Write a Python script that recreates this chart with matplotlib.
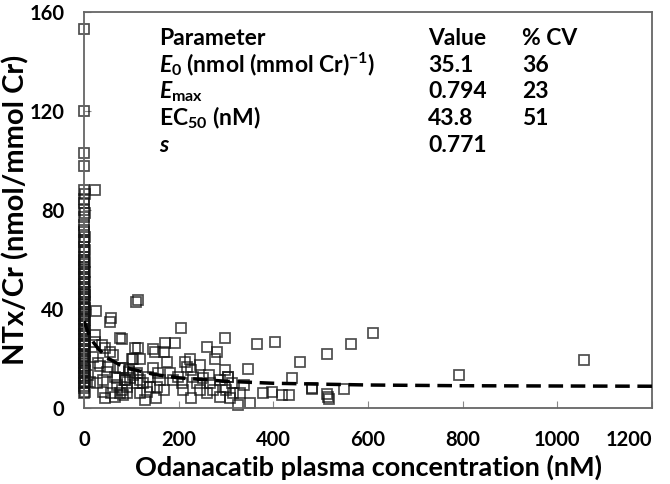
import matplotlib
matplotlib.use('Agg')
import matplotlib.pyplot as plt

plt.rcParams['font.family'] = ['Lato', 'DejaVu Sans']
plt.rcParams['font.weight'] = 'bold'
plt.rcParams['mathtext.fontset'] = 'custom'
plt.rcParams['mathtext.rm'] = 'Lato:bold'
plt.rcParams['mathtext.it'] = 'Lato:italic:bold'
plt.rcParams['mathtext.bf'] = 'Lato:bold'
plt.rcParams['lines.scale_dashes'] = False

# observations stacked at (near) zero concentration
col_y = [153, 120, 103, 98, 88, 86.5, 84.5, 83, 80, 79, 77, 74, 72, 71, 69,
         68, 67, 65, 64, 63, 61, 60, 59, 58, 57, 56, 55, 54, 53, 52, 51, 50,
         49, 48, 47, 46, 45, 44, 43, 42, 41, 40, 39, 38, 37, 36, 35, 34, 33,
         32, 31, 30, 29, 28, 27, 26, 25, 24, 23, 22, 21, 20, 19, 18, 17, 16,
         15, 14, 13, 12, 11, 10, 9, 8, 6.5, 5.9, 45.5, 40.5, 35.5, 30.5,
         25.5, 20.5, 15.5, 10.5]
col_x = [1, 1, 1, 1, 1, 2, 1, 0, 1, 2, 1, 1, 0, 1, 2,
         1, 0, 1, 2, 1, 0, 1, 2, 1, 0, 1, 2, 1, 0, 1, 2, 1,
         0, 1, 2, 1, 0, 1, 2, 1, 0, 1, 2, 1, 0, 1, 2, 1, 0,
         1, 2, 1, 0, 1, 2, 1, 0, 1, 2, 1, 0, 1, 2, 1, 0, 1,
         2, 1, 0, 1, 2, 1, 0, 1, 2, 1, 3, 3, 3, 3,
         3, 3, 3, 3]

# remaining observations
conc = [23, 25, 58, 55, 110, 113, 76, 23, 37, 44, 23, 62, 55, 30, 51,
        76, 94, 104, 115, 9, 13, 27, 41, 65, 87, 104, 41, 58, 76, 44, 65,
        69, 90, 111, 80, 108, 101, 118, 146, 150, 168, 171, 192, 175, 213,
        224, 205, 245, 259, 280, 277, 298, 263, 83, 94, 87, 97, 80, 90, 83,
        111, 118, 125, 136, 139, 146, 157, 161, 154, 168, 129, 153, 118, 132,
        182, 189, 199, 206, 210, 217, 227, 231, 238, 245, 227, 252, 266, 273,
        259, 287, 287, 298, 305, 298, 305, 312, 301, 315, 308, 330, 337, 326,
        351, 347, 379, 397, 418, 432, 439, 481, 515, 513, 365, 404, 456, 513,
        563, 611, 793, 1057, 550, 481, 518, 18, 33, 48, 70]
resp = [88, 39.2, 36.2, 34.9, 43, 43.5, 28.2, 29.5, 25.5, 24.1, 26.5, 21.4,
        22.7, 18, 16.7, 16, 15.4, 20, 24.1, 13.3, 10.6, 10, 11.3, 12.7, 11.3,
        13.3, 6.6, 5.9, 6.2, 3.9, 4.6, 9.3, 8.6, 10, 27.8, 24.1, 20, 20, 24,
        22.7, 22.7, 26.4, 26.4, 18.7, 18.7, 20, 32.3, 17.4, 24.8, 22.7, 20,
        28.2, 13.3, 16, 14.7, 11.3, 12, 7.3, 5.9, 5.3, 14, 11.3, 10, 12.7,
        8.6, 16, 14, 11.3, 8.6, 7.3, 3.2, 3.9, 5.9, 6.6, 14, 11.3, 12.7, 10,
        7.3, 16.7, 15.4, 12.7, 10, 7.3, 3.9, 12, 10, 7.3, 5.9, 4.6, 11.3,
        8.6, 12.7, 15.4, 12.7, 10, 7.3, 5.9, 3.9, 6, 9.3, 1.2, 1.9, 15.6,
        5.9, 6.6, 5.3, 5.3, 12, 8, 4.5, 5.5, 25.7, 26.8, 18.5, 21.8, 25.7,
        30.2, 13.5, 19.4, 7.5, 7.5, 3.6, 20.5, 17, 14.5, 12]

# fitted Emax model curve
fit_conc = [0, 5, 10, 20, 30, 50, 75, 100, 150, 200, 300, 400, 600, 800,
            1000, 1200]
fit_resp = [35.1, 32.5, 30.0, 26.5, 24.0, 20.2, 17.5, 15.7, 13.5, 12.2,
            10.8, 10.0, 9.3, 9.0, 8.9, 8.8]

param_rows = [r'$E_0$ (nmol (mmol Cr)$^{-1}$)', r'$E_{\mathrm{max}}$',
              r'EC$_{50}$ (nM)', r'$s$']
param_values = ['35.1', '0.794', '43.8', '0.771']
param_cv = ['36', '23', '51', '']

fig = plt.figure(figsize=(6.7, 4.84), dpi=100)
ax = fig.add_axes([0.1254, 0.157, 0.8478, 0.818])

mk = dict(marker='s', ms=6.5, mfc='none', mec='#111111', mew=1.25,
          alpha=0.75, ls='none', clip_on=False)
ax.plot(col_x, col_y, **mk)
ax.plot(conc, resp, **mk)
ax.plot(fit_conc, fit_resp, color='black', lw=2.5, dashes=(10.5, 5.5),
        zorder=3)

ax.set_xlim(0, 1200)
ax.set_ylim(0, 160)
ax.set_xticks(range(0, 1201, 200))
ax.set_yticks(range(0, 161, 40))
for s in ax.spines.values():
    s.set_color('#666666')
    s.set_linewidth(1.3)
ax.tick_params(axis='x', direction='in', length=5, width=0.8,
               color='#888888', pad=16, labelsize=14.5)
ax.tick_params(axis='y', direction='in', length=5, width=0.8,
               color='#888888', pad=14, labelsize=14.5)
ax.get_xticklabels()[-1].set_ha('right')
ax.set_xlabel('Odanacatib plasma concentration (nM)', fontsize=19.5,
              fontweight='bold', labelpad=3)
ax.set_ylabel('NTx/Cr (nmol/mmol Cr)', fontsize=21, fontweight='bold',
              labelpad=0)

# parameter table
row_y = [0.917, 0.849, 0.782, 0.715, 0.647]
tk = dict(transform=ax.transAxes, fontsize=16.5, fontweight='bold',
          va='baseline', ha='left')
ax.text(0.132, row_y[0], 'Parameter', **tk)
ax.text(0.606, row_y[0], 'Value', **tk)
ax.text(0.771, row_y[0], '% CV', **tk)
for i in range(len(param_rows)):
    ax.text(0.132, row_y[i + 1], param_rows[i], **tk)
    ax.text(0.606, row_y[i + 1], param_values[i], **tk)
    ax.text(0.771, row_y[i + 1], param_cv[i], **tk)

fig.savefig('out.png', dpi=100)
